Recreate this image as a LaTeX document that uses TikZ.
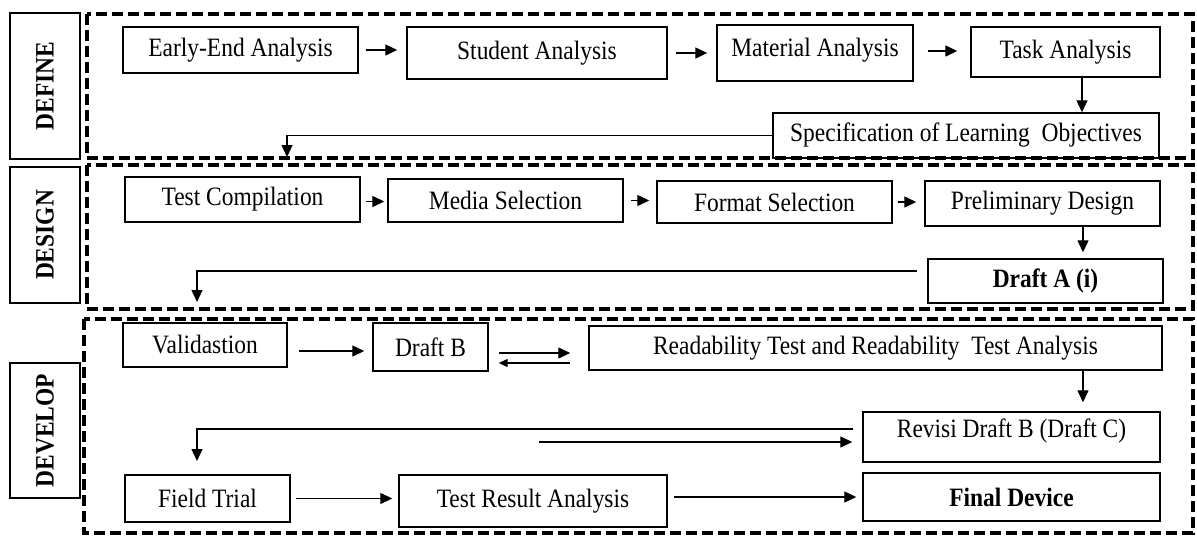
\documentclass[tikz,border=0pt]{standalone}
\usepackage{fontspec}
\setmainfont{Liberation Serif}[FakeStretch=0.885]
\usetikzlibrary{arrows.meta}
\begin{document}
\begin{tikzpicture}[x=1pt,y=-1pt,
  txt/.style={font=\fontsize{26.5}{31}\selectfont},
  box/.style={draw, line width=1.4pt, inner sep=0pt, txt},
  boldbox/.style={box, font=\fontsize{26.5}{31}\selectfont\bfseries},
  phase/.style={draw, line width=1.4pt, inner sep=0pt, rotate=90,
                font=\fontsize{26.5}{31}\selectfont\bfseries},
  frame/.style={draw, line width=4pt, dash pattern=on 11pt off 5pt},
  flow/.style={draw, line width=1.3pt, -{Triangle[length=12pt,width=11pt]}},
  link/.style={draw, line width=1.3pt}]
\useasboundingbox (0,0) rectangle (1197,536);

% stage frames
\draw[frame] (87,14) rectangle (1193,158);
\draw[frame] (87,165) rectangle (1193,309);
\draw[frame] (84,319) rectangle (1193,533);

% stage labels
\node[phase, minimum width=146pt, minimum height=70pt] (lDefine) at (45,86) {DEFINE};
\node[phase, minimum width=136pt, minimum height=70pt] (lDesign) at (45,235) {DESIGN};
\node[phase, minimum width=135pt, minimum height=70pt] (lDevelop) at (45,430.5) {DEVELOP};

% DEFINE
\node[box, minimum width=235pt, minimum height=46pt] (ee) at (240.5,50) {Early-End Analysis};
\node[box, minimum width=260pt, minimum height=52pt] (sa) at (537,53) {Student Analysis};
\node[box, minimum width=196pt, minimum height=56pt, text depth=12pt] (ma) at (815,53) {Material Analysis};
\node[box, minimum width=189pt, minimum height=50pt] (ta) at (1065.5,52) {Task Analysis};
\node[box, minimum width=386pt, minimum height=45pt] (slo) at (966,135.5) {Specification of Learning~ Objectives};

% DESIGN
\node[box, minimum width=235pt, minimum height=45pt] (tc) at (242.5,199.5) {Test Compilation};
\node[box, minimum width=235pt, minimum height=43pt] (ms) at (505.5,200.5) {Media Selection};
\node[box, minimum width=235pt, minimum height=42pt] (fs) at (774.5,202) {Format Selection};
\node[box, minimum width=235pt, minimum height=45pt] (pd) at (1042.5,203.5) {Preliminary Design};
\node[boldbox, minimum width=235pt, minimum height=44pt] (da) at (1045.5,281) {Draft A (i)};

% DEVELOP
\node[box, minimum width=164pt, minimum height=44pt] (va) at (205,345) {Validastion};
\node[box, minimum width=115pt, minimum height=48pt] (db) at (430.5,347) {Draft B};
\node[box, minimum width=573pt, minimum height=44pt] (rt) at (875.5,348) {Readability Test and Readability~ Test Analysis};
\node[box, minimum width=297pt, minimum height=50pt, text depth=18pt] (rv) at (1011.5,437) {Revisi Draft B (Draft C)};
\node[box, minimum width=165pt, minimum height=47pt] (ft) at (207.5,498.5) {Field Trial};
\node[box, minimum width=268pt, minimum height=52pt] (tr) at (533,501) {Test Result Analysis};
\node[boldbox, minimum width=297pt, minimum height=48pt] (fd) at (1011.5,497) {Final Device};

% free ends of the long return connectors
\coordinate (toDesign) at (287,157);
\coordinate (toDevelop) at (197,302);
\coordinate (toTrial) at (197,461);
\coordinate (fromMid) at (539,442);

% DEFINE connectors
\draw[flow, shorten <=7pt, shorten >=9pt] (ee.east) -- (ee.east -| sa.west);
\draw[flow, shorten <=8pt, shorten >=9pt] (sa.east) -- (sa.east -| ma.west);
\draw[flow, shorten <=14pt, shorten >=13pt] ([yshift=2pt]ma.east) -- ([yshift=2pt]ma.east -| ta.west);
\draw[flow] ([xshift=16.5pt]ta.south) -- ([xshift=16.5pt]ta.south |- slo.north);
\draw[flow] (slo.west) -| (toDesign);

% DESIGN connectors
\draw[flow, shorten <=5pt, shorten >=3pt] ([yshift=-2pt]tc.east) -- ([yshift=-2pt]tc.east -| ms.west);
\draw[flow, shorten <=7pt, shorten >=7pt] (ms.east) -- (ms.east -| fs.west);
\draw[flow, shorten <=5pt, shorten >=8pt] (fs.east) -- (fs.east -| pd.west);
\draw[flow, shorten >=6pt] ([xshift=40.5pt]pd.south) -- ([xshift=40.5pt]pd.south |- da.north);
\draw[flow] ([xshift=-10pt,yshift=10pt]da.west) -| (toDevelop);

% DEVELOP connectors
\draw[flow, shorten <=11pt, shorten >=8pt] ([yshift=-6pt]va.east) -- ([yshift=-6pt]va.east -| db.west);
\draw[flow, shorten <=10pt, shorten >=18pt] ([yshift=-6pt]db.east) -- ([yshift=-6pt]db.east -| rt.west);
\draw[line width=1.3pt, -{Triangle[length=9pt,width=8pt]}, shorten <=18pt, shorten >=10pt]
  ([yshift=-16pt]db.east -| rt.west) -- ([yshift=-16pt]db.east);
\draw[flow, shorten >=9pt] ([xshift=207.5pt]rt.south) -- ([xshift=207.5pt]rt.south |- rv.north);
\draw[flow] ([xshift=-9pt,yshift=8pt]rv.west) -| (toTrial);
\draw[flow, shorten >=10pt] (fromMid) -- (fromMid -| rv.west);
\draw[flow, shorten <=5pt, shorten >=6pt] (ft.east) -- (ft.east -| tr.west);
\draw[flow, shorten <=6pt, shorten >=6pt] (fd.west -| tr.east) -- (fd.west);
\end{tikzpicture}
\end{document}
